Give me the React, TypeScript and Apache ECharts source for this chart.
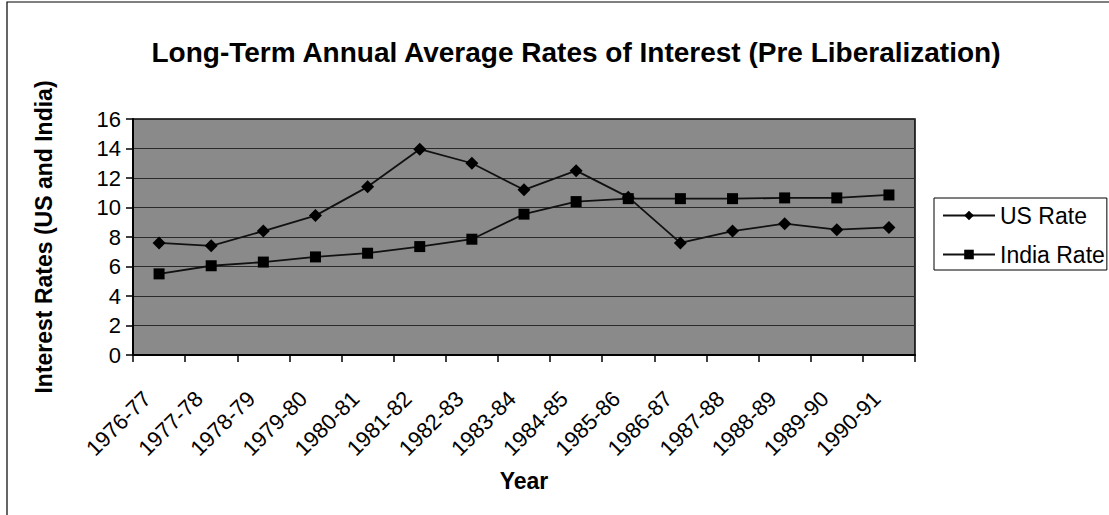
import React, { useEffect, useRef } from "react";
import * as echarts from "echarts";

const categories = [
  "1976-77", "1977-78", "1978-79", "1979-80", "1980-81", "1981-82", "1982-83", "1983-84",
  "1984-85", "1985-86", "1986-87", "1987-88", "1988-89", "1989-90", "1990-91",
];
const usRate = [7.6, 7.4, 8.4, 9.45, 11.4, 13.95, 13.0, 11.2, 12.5, 10.7, 7.6, 8.4, 8.9, 8.5, 8.65];
const indiaRate = [5.5, 6.05, 6.3, 6.65, 6.9, 7.35, 7.85, 9.55, 10.4, 10.6, 10.6, 10.6, 10.65, 10.65, 10.85];
const yTicks = { min: 0, max: 16, interval: 2 };

const FONT = "Liberation Sans, Arial, sans-serif";

export default function App() {
  const ref = useRef<HTMLDivElement>(null);
  useEffect(() => {
    if (!ref.current) return;
    const chart = echarts.init(ref.current, null, { renderer: "svg" });
    chart.setOption({
      animation: false,
      backgroundColor: "#ffffff",
      textStyle: { fontFamily: FONT, color: "#000" },
      title: {
        text: "Long-Term Annual Average Rates of Interest (Pre Liberalization)",
        left: 571,
        top: 33,
        textAlign: "center",
        textStyle: { fontFamily: FONT, fontSize: 28, fontWeight: "bold", color: "#000" },
      },
      graphic: [
        {
          type: "rect",
          shape: { x: 7, y: 2, width: 1200, height: 600 },
          style: { fill: "none", stroke: "#000", lineWidth: 1.2 },
          silent: true,
        },
      ],
      legend: {
        orient: "vertical",
        left: 934,
        top: 198,
        padding: [6, 2, 4, 8],
        itemGap: 16,
        itemWidth: 52,
        itemHeight: 12,
        borderColor: "#000",
        borderWidth: 1,
        backgroundColor: "#fff",
        textStyle: { fontFamily: FONT, fontSize: 23, color: "#000" },
        data: ["US Rate", "India Rate"],
      },
      grid: {
        left: 133,
        right: 194,
        top: 119,
        bottom: 160,
        show: true,
        backgroundColor: "#8a8a8a",
        borderColor: "#000",
        borderWidth: 1.5,
      },
      xAxis: {
        type: "category",
        data: categories,
        boundaryGap: true,
        name: "Year",
        nameLocation: "middle",
        nameGap: 114,
        nameMoveOverlap: false,
        nameTextStyle: { fontFamily: FONT, fontSize: 23, fontWeight: "bold", color: "#000" },
        axisLine: { lineStyle: { color: "#000", width: 2 } },
        axisTick: { show: true, alignWithLabel: false, length: 7, lineStyle: { color: "#000", width: 1.5 } },
        axisLabel: {
          rotate: 45,
          margin: 28,
          interval: 0,
          padding: [0, 17, 0, 0],
          fontFamily: FONT,
          fontSize: 22,
          color: "#000",
        },
        splitLine: { show: false },
      },
      yAxis: {
        type: "value",
        min: yTicks.min,
        max: yTicks.max,
        interval: yTicks.interval,
        name: "Interest Rates (US and India)",
        nameLocation: "middle",
        nameGap: 78,
        nameTextStyle: { fontFamily: FONT, fontSize: 23, fontWeight: "bold", color: "#000" },
        axisLine: { show: true, lineStyle: { color: "#000", width: 2 } },
        axisTick: { show: true, length: 7, lineStyle: { color: "#000", width: 1.5 } },
        axisLabel: { margin: 12, fontFamily: FONT, fontSize: 22, color: "#000" },
        splitLine: { show: true, lineStyle: { color: "#2a2a2a", width: 1 } },
      },
      series: [
        {
          name: "US Rate",
          type: "line",
          data: usRate,
          symbol: "diamond",
          symbolSize: 13,
          itemStyle: { color: "#000" },
          lineStyle: { color: "#111", width: 1.8 },
        },
        {
          name: "India Rate",
          type: "line",
          data: indiaRate,
          symbol: "rect",
          symbolSize: 11,
          itemStyle: { color: "#000" },
          lineStyle: { color: "#111", width: 1.8 },
        },
      ],
    });
    return () => chart.dispose();
  }, []);
  return (
    <div
      ref={ref}
      style={{ position: "fixed", left: 0, top: 0, width: 1109, height: 515 }}
    />
  );
}
